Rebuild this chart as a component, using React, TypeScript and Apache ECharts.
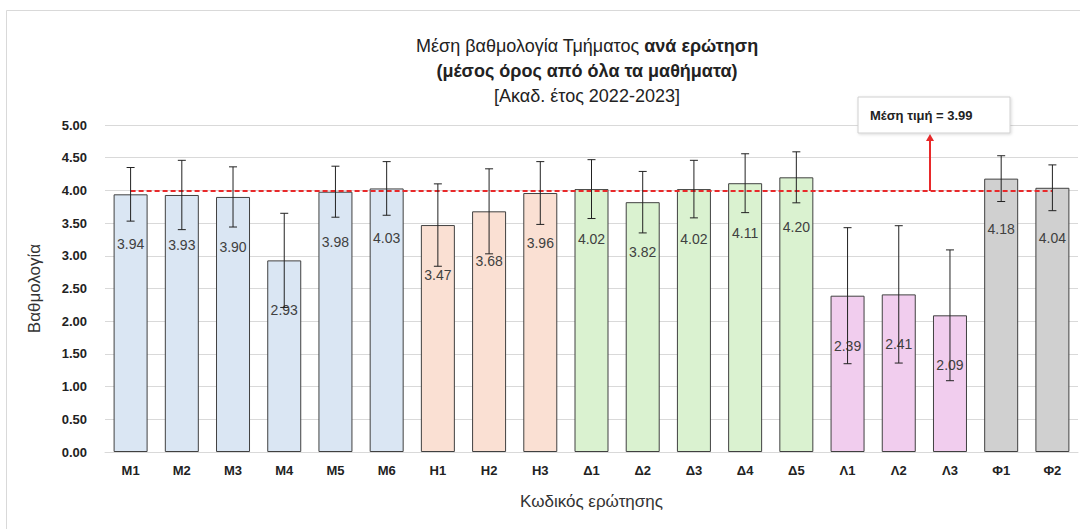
import React, { useEffect, useRef } from "react";
import * as echarts from "echarts";

const categories = ["M1", "M2", "M3", "M4", "M5", "M6", "H1", "H2", "H3", "Δ1", "Δ2", "Δ3", "Δ4", "Δ5", "Λ1", "Λ2", "Λ3", "Φ1", "Φ2"];
const means = [3.94, 3.93, 3.9, 2.93, 3.98, 4.03, 3.47, 3.68, 3.96, 4.02, 3.82, 4.02, 4.11, 4.2, 2.39, 2.41, 2.09, 4.18, 4.04];
const stdevs = [0.41, 0.53, 0.46, 0.72, 0.39, 0.41, 0.63, 0.65, 0.48, 0.45, 0.47, 0.44, 0.45, 0.39, 1.04, 1.05, 1.0, 0.35, 0.35];
const groups = ["M", "M", "M", "M", "M", "M", "H", "H", "H", "Δ", "Δ", "Δ", "Δ", "Δ", "Λ", "Λ", "Λ", "Φ", "Φ"];
const groupColors: Record<string, string> = {
  M: "#DAE6F3",
  H: "#FAE0D3",
  "Δ": "#DAF2D0",
  "Λ": "#F1CDEE",
  "Φ": "#D0D0D0",
};
const overallMean = 3.99;
const yTicks = { min: 0, max: 5, interval: 0.5 };

const FONT = "'Liberation Sans', Arial, sans-serif";

export default function App() {
  const ref = useRef<HTMLDivElement>(null);
  useEffect(() => {
    if (!ref.current) return;
    const chart = echarts.init(ref.current, null, { renderer: "svg" });
    const barData = means.map((v, i) => ({
      value: v,
      itemStyle: { color: groupColors[groups[i]] },
    }));
    const errData = means.map((v, i) => [i, v - stdevs[i], v + stdevs[i]]);
    const meanData = categories.map(() => overallMean);

    const option: any = {
      animation: false,
      backgroundColor: "#ffffff",
      textStyle: { fontFamily: FONT },
      title: {
        left: 582,
        textAlign: "center",
        top: 28,
        text:
          "{n|Μέση βαθμολογία Τμήματος }{b|ανά ερώτηση}\n{b|(μέσος όρος από όλα τα μαθήματα)}\n{n|[Ακαδ. έτος 2022-2023]}",
        textStyle: {
          fontFamily: FONT,
          fontSize: 18,
          fontWeight: "normal",
          color: "#222",
          lineHeight: 25,
          rich: {
            n: { fontFamily: FONT, fontSize: 18, fontWeight: "normal", color: "#222", lineHeight: 25 },
            b: { fontFamily: FONT, fontSize: 18, fontWeight: "bold", color: "#222", lineHeight: 25 },
          },
        },
      },
      grid: { left: 105, top: 125, width: 973, height: 327, containLabel: false },
      xAxis: {
        type: "category",
        data: categories,
        name: "Κωδικός ερώτησης",
        nameLocation: "middle",
        nameGap: 41,
        nameTextStyle: { fontFamily: FONT, fontSize: 17, color: "#333" },
        axisLine: { show: true, lineStyle: { color: "#d9d9d9" } },
        axisTick: { show: false },
        axisLabel: { fontFamily: FONT, fontSize: 13, fontWeight: "bold", color: "#222", margin: 12 },
      },
      yAxis: {
        type: "value",
        min: yTicks.min,
        max: yTicks.max,
        interval: yTicks.interval,
        name: "Βαθμολογία",
        nameLocation: "middle",
        nameGap: 62,
        nameTextStyle: { fontFamily: FONT, fontSize: 17, color: "#333" },
        axisLine: { show: false },
        axisTick: { show: false },
        splitLine: { lineStyle: { color: "#d9d9d9", width: 1 } },
        axisLabel: {
          fontFamily: FONT,
          fontSize: 13,
          fontWeight: "bold",
          color: "#222",
          margin: 18,
          formatter: (v: number) => v.toFixed(2),
        },
      },
      series: [
        {
          type: "bar",
          data: barData,
          barWidth: 34,
          itemStyle: { borderColor: "#404040", borderWidth: 1 },
          label: {
            show: true,
            position: "insideTop",
            distance: 43,
            fontFamily: FONT,
            fontSize: 14,
            color: "#404040",
            formatter: (p: any) => Number(p.value).toFixed(2),
          },
          z: 2,
        },
        {
          type: "line",
          data: meanData,
          symbol: "none",
          lineStyle: { color: "#E8292A", width: 2, type: [5, 3] },
          z: 3,
        },
        {
          type: "custom",
          data: errData,
          z: 4,
          renderItem: (params: any, api: any) => {
            const x = api.value(0);
            const lo = api.coord([x, api.value(1)]);
            const hi = api.coord([x, api.value(2)]);
            const cw = 4;
            const style = { stroke: "#222", lineWidth: 1 };
            return {
              type: "group",
              children: [
                { type: "line", shape: { x1: lo[0], y1: lo[1], x2: hi[0], y2: hi[1] }, style },
                { type: "line", shape: { x1: lo[0] - cw, y1: lo[1], x2: lo[0] + cw, y2: lo[1] }, style },
                { type: "line", shape: { x1: hi[0] - cw, y1: hi[1], x2: hi[0] + cw, y2: hi[1] }, style },
              ],
            };
          },
        },
      ],
    };
    chart.setOption(option);

    const meanY = chart.convertToPixel({ yAxisIndex: 0 }, overallMean) as number;
    const arrowX = 930;
    const boxBottom = 133;
    chart.setOption({
      graphic: [
        {
          type: "rect",
          shape: { x: 6.5, y: 10.5, width: 1090, height: 530 },
          style: { fill: "none", stroke: "#d9d9d9", lineWidth: 1 },
          silent: true,
          z: 0,
        },
        {
          type: "line",
          shape: { x1: arrowX, y1: meanY, x2: arrowX, y2: boxBottom + 7 },
          style: { stroke: "#E8292A", lineWidth: 2 },
          z: 10,
        },
        {
          type: "polygon",
          shape: { points: [[arrowX - 4, boxBottom + 8], [arrowX + 4, boxBottom + 8], [arrowX, boxBottom + 1]] },
          style: { fill: "#E8292A" },
          z: 10,
        },
        {
          type: "rect",
          shape: { x: 858, y: 97, width: 152, height: 36 },
          style: { fill: "#ffffff", stroke: "#d0d0d0", lineWidth: 1, shadowBlur: 3, shadowColor: "rgba(0,0,0,0.15)", shadowOffsetX: 1, shadowOffsetY: 1 },
          z: 10,
        },
        {
          type: "text",
          x: 870,
          y: 115,
          style: {
            text: "Μέση τιμή = " + overallMean.toFixed(2),
            fontFamily: FONT,
            fontSize: 13,
            fontWeight: "bold",
            fill: "#222",
            verticalAlign: "middle",
          },
          z: 11,
        },
      ],
    });

    return () => chart.dispose();
  }, []);
  return <div ref={ref} style={{ position: "fixed", left: 0, top: 0, width: 1080, height: 529 }} />;
}
